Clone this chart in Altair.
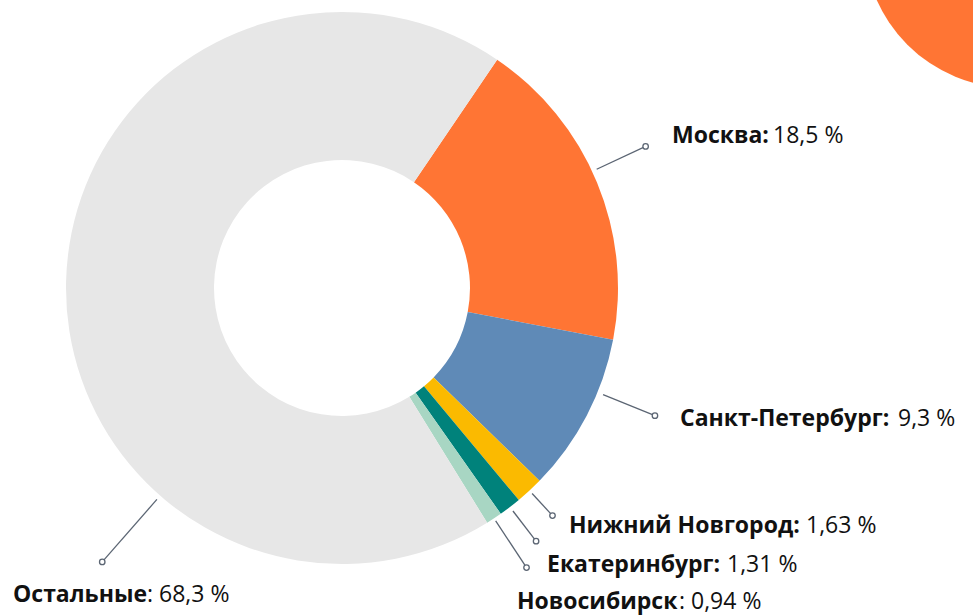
import math
import altair as alt
import pandas as pd

# ---- data ----
cities = ["Москва", "Санкт-Петербург", "Нижний Новгород", "Екатеринбург", "Новосибирск", "Остальные"]
shares = [18.5, 9.3, 1.63, 1.31, 0.94, 68.3]
value_labels = ["18,5 %", "9,3 %", "1,63 %", "1,31 %", "0,94 %", "68,3 %"]
name_labels = ["Москва:", "Санкт-Петербург:", "Нижний Новгород:", "Екатеринбург:", "Новосибирск", "Остальные"]
value_prefix = ["", "", "", "", ": ", ": "]
colors = ["#FF7534", "#5F8AB7", "#FBBA00", "#00827B", "#A8D6C3", "#E7E7E7"]

# ---- layout ----
W, H = 973, 616
CX, CY = 342, 288
R_OUT, R_IN = 276, 128
START_DEG = 34.2
# leader angle overrides (deg, clockwise from top); None = slice middle
leader_angle_override = [65.0, 112.2, None, None, None, 221.2]
leader_r0 = [281, 282, 280, 281, 279, 281]
leader_r1 = [335, 338, 310, 319, 335, 364]
name_x = [672, 680, 569, 547, 517, 13]
value_x = [773, 898, 806, 727, 679, 147]
label_baseline = [143, 426, 533, 572, 609, 602]

total = sum(shares)
rows = []
cum = 0.0
for i, (c, s) in enumerate(zip(cities, shares)):
    mid = START_DEG + (cum + s / 2) / total * 360
    cum += s
    ang = leader_angle_override[i] if leader_angle_override[i] is not None else mid
    a = math.radians(ang)
    rows.append(dict(
        city=c, share=s, order=i,
        x0=CX + leader_r0[i] * math.sin(a), y0=CY - leader_r0[i] * math.cos(a),
        x1=CX + leader_r1[i] * math.sin(a), y1=CY - leader_r1[i] * math.cos(a),
        name=name_labels[i], val=value_prefix[i] + value_labels[i],
        nx=name_x[i], vx=value_x[i], by=label_baseline[i],
    ))
df = pd.DataFrame(rows)

xs = alt.Scale(domain=[0, W], range=[0, W], nice=False, zero=False)
ys = alt.Scale(domain=[0, H], range=[0, H], nice=False, zero=False)

start = math.radians(START_DEG)
donut = alt.Chart(df).mark_arc(innerRadius=R_IN, outerRadius=R_OUT).encode(
    theta=alt.Theta("share:Q", stack=True, scale=alt.Scale(range=[start, start + 2 * math.pi])),
    order=alt.Order("order:Q"),
    color=alt.Color("city:N", scale=alt.Scale(domain=cities, range=colors), legend=None),
    x=alt.value(CX), y=alt.value(CY),
)

LINE = "#5B6573"
leaders = alt.Chart(df).mark_rule(color=LINE, strokeWidth=1.3).encode(
    x=alt.X("x0:Q", scale=xs, axis=None), y=alt.Y("y0:Q", scale=ys, axis=None),
    x2="x1:Q", y2="y1:Q",
)
ends = alt.Chart(df).mark_point(shape="circle", size=30, filled=True, fill="white",
                                stroke=LINE, strokeWidth=1.3, opacity=1).encode(
    x=alt.X("x1:Q", scale=xs, axis=None), y=alt.Y("y1:Q", scale=ys, axis=None),
)
FONT = "Open Sans"
names = alt.Chart(df).mark_text(font=FONT, fontSize=23, fontWeight="bold", color="#111111",
                                align="left", baseline="alphabetic").encode(
    x=alt.X("nx:Q", scale=xs, axis=None), y=alt.Y("by:Q", scale=ys, axis=None), text="name:N",
)
vals = alt.Chart(df).mark_text(font=FONT, fontSize=23, fontWeight="normal", color="#111111",
                               align="left", baseline="alphabetic").encode(
    x=alt.X("vx:Q", scale=xs, axis=None), y=alt.Y("by:Q", scale=ys, axis=None), text="val:N",
)

deco = alt.Chart(pd.DataFrame({"k": [1]})).mark_arc(
    radius=148, theta=2 * math.pi, color="#FF7534"
).encode(x=alt.value(1012), y=alt.value(-60))

chart = alt.layer(deco, donut, leaders, ends, names, vals).properties(
    width=W, height=H, autosize=alt.AutoSizeParams(type="none"), padding=0,
    background="white",
).configure_view(strokeWidth=0)

chart.save("out.html", embed_options={"renderer": "svg", "actions": False})
